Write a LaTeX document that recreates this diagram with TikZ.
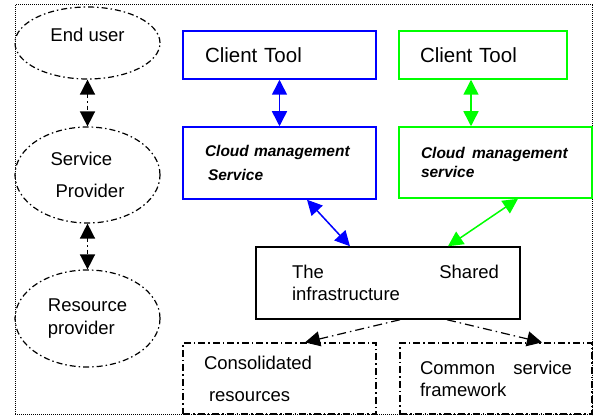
\documentclass[tikz,border=0pt]{standalone}
\usepackage{fontspec}
\setmainfont{Liberation Sans}
\usetikzlibrary{shapes.geometric,arrows.meta}
\begin{document}
\begin{tikzpicture}[x=1pt, y=-1pt,
               role_style/.style={ellipse,draw=black,line width=1.2pt,dash pattern=on 6pt off 3pt on 1.5pt off 3pt,minimum width=145pt,inner sep=0pt,font=\fontsize{18.5}{22.2}\selectfont},
               box_style/.style={rectangle,line width=1.5pt,align=left,inner ysep=0pt,font=\fontsize{18.5}{22.2}\selectfont},
               tool_style/.style={box_style,font=\fontsize{20.5}{24.6}\selectfont},
               cloud_style/.style={box_style,font=\fontsize{15.5}{18.6}\selectfont\bfseries\itshape},
               part_style/.style={box_style,draw=black,line width=1.2pt,dash pattern=on 7pt off 3pt on 1.5pt off 3pt},
               edge_style/.style={line width=1.5pt,{Triangle[length=15pt,width=15pt]}-{Triangle[length=15pt,width=15pt]}},
               role_edge/.style={edge_style,draw=black,dash pattern=on 4pt off 3pt on 1.5pt off 3pt},
               part_edge/.style={line width=1.2pt,draw=black,dash pattern=on 9pt off 4pt on 1.5pt off 4pt,-{Triangle[length=15pt,width=15pt]}}]
                \useasboundingbox (0,0) rectangle (595,419);
                \draw[line width=1pt,dash pattern=on 1pt off 1pt] (15,5) rectangle (592,415);

                \node[role_style,minimum height=72pt,text depth=17pt] (eu) at (87.5,43) {End user};
                \node[role_style,minimum height=96pt,align=left] (sp) at (87.5,175) {Service\\[10pt]\hspace*{5pt}Provider};
                \node[role_style,minimum height=97pt,align=left] (rp) at (87.5,318.5) {Resource\\provider};

                \node[tool_style,draw=blue,minimum height=48pt,inner xsep=22pt,text width=149pt] (ct_blue) at (279.5,55) {Client Tool};
                \node[cloud_style,draw=blue,minimum height=72pt,inner xsep=22pt,text width=149pt] (cm_blue) at (279.5,163) {Cloud management\\[5.4pt]\hspace*{3pt}Service};
                \node[tool_style,draw=green,minimum height=48pt,inner xsep=21pt,text width=126pt] (ct_green) at (483,55) {Client Tool};
                \node[cloud_style,draw=green,minimum height=71pt,inner xsep=22pt,text width=149pt] (cm_green) at (495.5,162.5) {Cloud\hspace{2pt} management\\service};

                \node[box_style,draw=black,minimum height=72pt,inner xsep=21pt,text width=222pt] (shared) at (388,283) {\hspace*{15pt}The\hfill Shared\\\hspace*{15pt}infrastructure};

                \node[part_style,minimum height=71pt,inner xsep=21pt,text width=151pt] (cons) at (279.5,378.5) {Consolidated\\[9.8pt]\hspace*{5pt}resources};
                \node[part_style,minimum height=71pt,inner xsep=20pt,text width=152pt] (common) at (496,378.5) {Common\hfill service\\framework};

                \draw[role_edge] (eu) -- (sp);
                \draw[role_edge] (sp) -- (rp);
                \draw[edge_style,draw=blue] (ct_blue) -- (cm_blue);
                \draw[edge_style,draw=green] ([xshift=-12pt]ct_green.south) -- ([xshift=-24.5pt]cm_green.north);
                \draw[edge_style,draw=blue] ([xshift=27.5pt]cm_blue.south) -- ([xshift=-38pt]shared.north);
                \draw[edge_style,draw=green] ([xshift=22.5pt]cm_green.south) -- ([xshift=60pt]shared.north);
                \draw[part_edge] ([xshift=12pt]shared.south) -- ([xshift=25.5pt]cons.north);
                \draw[part_edge] ([xshift=59pt]shared.south) -- ([xshift=46pt]common.north);
            \end{tikzpicture}
\end{document}
